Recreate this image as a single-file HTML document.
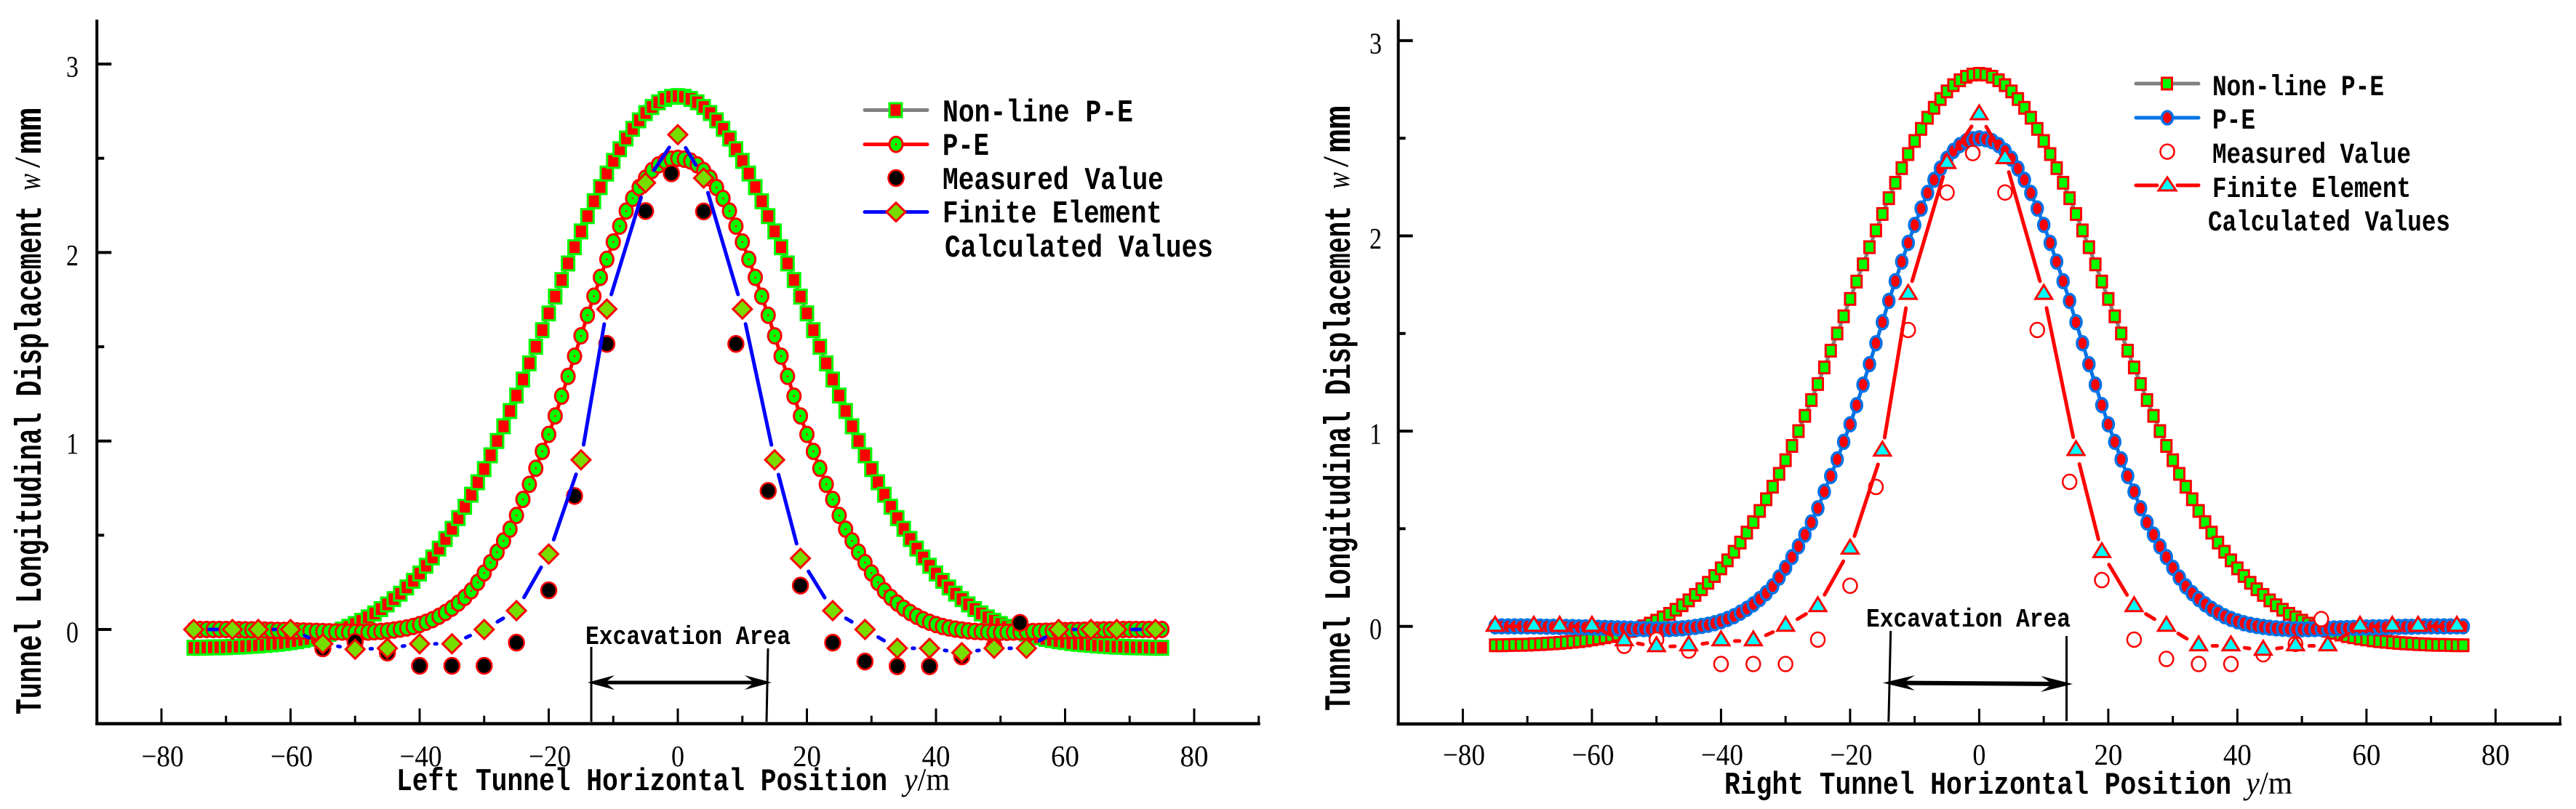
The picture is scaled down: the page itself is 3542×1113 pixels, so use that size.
<!DOCTYPE html>
<html lang="en">
<head>
<meta charset="utf-8">
<title>Tunnel Longitudinal Displacement Charts</title>
<style>
html,body{margin:0;padding:0;background:#fff;width:3542px;height:1113px;overflow:hidden}
svg{display:block}
.mono{font-family:"Liberation Mono",monospace;font-weight:bold;fill:#000}
.ytitle{font-family:"Liberation Mono",monospace;font-weight:bold;fill:#000}
.serif{font-family:"Liberation Serif",serif;fill:#000}
</style>
</head>
<body>
<svg id="figure" xmlns="http://www.w3.org/2000/svg" width="3542" height="1113" viewBox="0 0 3542 1113">
  <rect x="0" y="0" width="3542" height="1113" fill="#fff"/>
  <g id="left-chart">
    <g id="left-marks"></g>
    <g id="left-axes"></g>
    <text class="ytitle" transform="translate(56,983) rotate(-90)" font-size="51" textLength="700" lengthAdjust="spacingAndGlyphs">Tunnel Longitudinal Displacement</text>
    <text class="serif" transform="translate(55,262) rotate(-90)" font-size="46" font-style="italic" textLength="23" lengthAdjust="spacingAndGlyphs">w</text>
    <text class="serif" transform="translate(54,231) rotate(-90)" font-size="50" textLength="15" lengthAdjust="spacingAndGlyphs">/</text>
    <text class="ytitle" transform="translate(56,212) rotate(-90)" font-size="51" textLength="64" lengthAdjust="spacingAndGlyphs">mm</text>
    <text class="mono" x="545" y="1087" font-size="44" textLength="675" lengthAdjust="spacingAndGlyphs">Left Tunnel Horizontal Position</text>
    <text class="serif" x="1243" y="1087" font-size="44" textLength="63" lengthAdjust="spacingAndGlyphs"><tspan font-style="italic">y</tspan>/m</text>
    <text class="mono" x="805" y="886" font-size="36" textLength="282" lengthAdjust="spacingAndGlyphs">Excavation Area</text>
    <line x1="813" y1="890" x2="813" y2="993" stroke="#000" stroke-width="3"/>
    <line x1="1056" y1="892" x2="1054" y2="993" stroke="#000" stroke-width="3"/>
    <line x1="825" y1="939" x2="1050" y2="939" stroke="#000" stroke-width="5"/>
    <polygon points="808,939 845,929 832,939 845,949" fill="#000"/>
    <polygon points="1061,939 1024,929 1037,939 1024,949" fill="#000"/>
    <g>
      <line x1="1189" y1="151.5" x2="1275" y2="151.5" stroke="#7f7f7f" stroke-width="5" stroke-linecap="round"/>
      <rect x="1223" y="142" width="17" height="19" fill="#ff0000" stroke="#00ff00" stroke-width="3"/>
      <text class="mono" x="1296" y="167" font-size="44" textLength="262" lengthAdjust="spacingAndGlyphs">Non-line P-E</text>
      <line x1="1189" y1="198.6" x2="1275" y2="198.6" stroke="#ff0000" stroke-width="5" stroke-linecap="round"/>
      <ellipse cx="1232" cy="198.6" rx="9" ry="10.5" fill="#00ff00" stroke="#ff0000" stroke-width="3"/>
      <circle cx="1232" cy="198.6" r="1.3" fill="#ff0000"/>
      <text class="mono" x="1296" y="213" font-size="44" textLength="64" lengthAdjust="spacingAndGlyphs">P-E</text>
      <ellipse cx="1232" cy="245" rx="10.5" ry="11" fill="#000" stroke="#ff0000" stroke-width="2.5"/>
      <text class="mono" x="1296" y="260" font-size="44" textLength="304" lengthAdjust="spacingAndGlyphs">Measured Value</text>
      <line x1="1189" y1="291.6" x2="1275" y2="291.6" stroke="#0000ff" stroke-width="5" stroke-linecap="round"/>
      <polygon points="1232,279 1245,291.6 1232,304.5 1219,291.6" fill="#77dd00" stroke="#ff0000" stroke-width="3"/>
      <text class="mono" x="1296" y="306" font-size="44" textLength="302" lengthAdjust="spacingAndGlyphs">Finite Element</text>
      <text class="mono" x="1299" y="353" font-size="44" textLength="369" lengthAdjust="spacingAndGlyphs">Calculated Values</text>
    </g>
  </g>
  <g id="right-chart">
    <g id="right-marks"></g>
    <g id="right-axes"></g>
    <text class="ytitle" transform="translate(1856,978) rotate(-90)" font-size="51" textLength="695" lengthAdjust="spacingAndGlyphs">Tunnel Longitudinal Displacement</text>
    <text class="serif" transform="translate(1855,260) rotate(-90)" font-size="46" font-style="italic" textLength="23" lengthAdjust="spacingAndGlyphs">w</text>
    <text class="serif" transform="translate(1853,230) rotate(-90)" font-size="50" textLength="15" lengthAdjust="spacingAndGlyphs">/</text>
    <text class="ytitle" transform="translate(1856,210) rotate(-90)" font-size="51" textLength="65" lengthAdjust="spacingAndGlyphs">mm</text>
    <text class="mono" x="2371" y="1092" font-size="44" textLength="697" lengthAdjust="spacingAndGlyphs">Right Tunnel Horizontal Position</text>
    <text class="serif" x="3088" y="1092" font-size="44" textLength="64" lengthAdjust="spacingAndGlyphs"><tspan font-style="italic">y</tspan>/m</text>
    <text class="mono" x="2566" y="862" font-size="36" textLength="281" lengthAdjust="spacingAndGlyphs">Excavation Area</text>
    <line x1="2599.7" y1="868" x2="2596.8" y2="993" stroke="#000" stroke-width="3"/>
    <line x1="2841.5" y1="875" x2="2841.5" y2="992" stroke="#000" stroke-width="3"/>
    <line x1="2605" y1="939.5" x2="2835" y2="941" stroke="#000" stroke-width="6"/>
    <polygon points="2589,939.5 2633,929 2617,939.5 2633,950" fill="#000"/>
    <polygon points="2850,941 2806,930 2822,941 2806,952" fill="#000"/>
    <g>
      <line x1="2937" y1="115" x2="3023" y2="115" stroke="#7f7f7f" stroke-width="5" stroke-linecap="round"/>
      <rect x="2972.5" y="107" width="14" height="16" fill="#00ff00" stroke="#ff0000" stroke-width="3"/>
      <text class="mono" x="3042" y="131" font-size="40" textLength="236" lengthAdjust="spacingAndGlyphs">Non-line P-E</text>
      <line x1="2937" y1="162" x2="3023" y2="162" stroke="#0073e6" stroke-width="5" stroke-linecap="round"/>
      <ellipse cx="2980" cy="162" rx="7.5" ry="9" fill="#ff0000" stroke="#0073e6" stroke-width="3.5"/>
      <text class="mono" x="3042" y="177" font-size="40" textLength="59" lengthAdjust="spacingAndGlyphs">P-E</text>
      <ellipse cx="2980" cy="208.6" rx="9.5" ry="10" fill="#fff" stroke="#ff0000" stroke-width="2.5"/>
      <text class="mono" x="3042" y="224" font-size="40" textLength="273" lengthAdjust="spacingAndGlyphs">Measured Value</text>
      <line x1="2937" y1="255" x2="2966" y2="255" stroke="#ff0000" stroke-width="5" stroke-linecap="round"/>
      <line x1="2994" y1="255" x2="3023" y2="255" stroke="#ff0000" stroke-width="5" stroke-linecap="round"/>
      <polygon points="2980,244 2992,262 2968,262" fill="#00ffff" stroke="#ff0000" stroke-width="3"/>
      <text class="mono" x="3042" y="271" font-size="40" textLength="273" lengthAdjust="spacingAndGlyphs">Finite Element</text>
      <text class="mono" x="3036" y="317" font-size="40" textLength="333" lengthAdjust="spacingAndGlyphs">Calculated Values</text>
    </g>
  </g>
</svg>
<script>
const curvePositions = [-75,-74,-73,-72,-71,-70,-69,-68,-67,-66,-65,-64,-63,-62,-61,-60,-59,-58,-57,-56,-55,-54,-53,-52,-51,-50,-49,-48,-47,-46,-45,-44,-43,-42,-41,-40,-39,-38,-37,-36,-35,-34,-33,-32,-31,-30,-29,-28,-27,-26,-25,-24,-23,-22,-21,-20,-19,-18,-17,-16,-15,-14,-13,-12,-11,-10,-9,-8,-7,-6,-5,-4,-3,-2,-1,0,1,2,3,4,5,6,7,8,9,10,11,12,13,14,15,16,17,18,19,20,21,22,23,24,25,26,27,28,29,30,31,32,33,34,35,36,37,38,39,40,41,42,43,44,45,46,47,48,49,50,51,52,53,54,55,56,57,58,59,60,61,62,63,64,65,66,67,68,69,70,71,72,73,74,75];

const leftNonlineValues = [-0.097,-0.097,-0.096,-0.095,-0.095,-0.094,-0.092,-0.091,-0.089,-0.087,-0.085,-0.082,-0.079,-0.076,-0.072,-0.067,-0.062,-0.056,-0.05,-0.042,-0.033,-0.023,-0.013,0,0.014,0.029,0.046,0.064,0.085,0.108,0.133,0.161,0.19,0.223,0.258,0.297,0.338,0.382,0.429,0.48,0.534,0.591,0.651,0.715,0.781,0.851,0.924,1,1.078,1.159,1.241,1.326,1.412,1.5,1.588,1.677,1.766,1.854,1.942,2.028,2.112,2.193,2.272,2.347,2.419,2.486,2.548,2.605,2.656,2.701,2.74,2.772,2.797,2.815,2.826,2.83,2.826,2.815,2.797,2.772,2.74,2.701,2.656,2.605,2.548,2.486,2.419,2.347,2.272,2.193,2.112,2.028,1.942,1.854,1.766,1.677,1.588,1.5,1.412,1.326,1.241,1.159,1.078,1,0.924,0.851,0.781,0.715,0.651,0.591,0.534,0.48,0.429,0.382,0.338,0.297,0.258,0.223,0.19,0.161,0.133,0.108,0.085,0.064,0.046,0.029,0.014,0,-0.013,-0.023,-0.033,-0.042,-0.05,-0.056,-0.062,-0.067,-0.072,-0.076,-0.079,-0.082,-0.085,-0.087,-0.089,-0.091,-0.092,-0.094,-0.095,-0.095,-0.096,-0.097,-0.097];

const leftPeValues = [0,0,0,0,0,0,0,-0.001,-0.002,-0.002,-0.003,-0.003,-0.004,-0.005,-0.005,-0.006,-0.007,-0.008,-0.009,-0.01,-0.011,-0.012,-0.013,-0.014,-0.015,-0.015,-0.015,-0.014,-0.012,-0.01,-0.007,-0.003,0.002,0.008,0.016,0.026,0.038,0.052,0.07,0.09,0.113,0.14,0.17,0.205,0.25,0.3,0.355,0.41,0.47,0.532,0.605,0.69,0.77,0.855,0.945,1.035,1.133,1.238,1.343,1.45,1.558,1.667,1.768,1.868,1.964,2.056,2.14,2.22,2.287,2.345,2.395,2.435,2.465,2.485,2.495,2.5,2.495,2.485,2.465,2.435,2.395,2.345,2.287,2.22,2.14,2.056,1.964,1.868,1.768,1.667,1.558,1.45,1.343,1.238,1.133,1.035,0.945,0.855,0.77,0.69,0.605,0.532,0.47,0.41,0.355,0.3,0.25,0.205,0.17,0.14,0.113,0.09,0.07,0.052,0.038,0.026,0.016,0.008,0.002,-0.003,-0.007,-0.01,-0.012,-0.014,-0.015,-0.015,-0.015,-0.014,-0.013,-0.012,-0.011,-0.01,-0.009,-0.008,-0.007,-0.006,-0.005,-0.005,-0.004,-0.003,-0.003,-0.002,-0.002,-0.001,0,0,0,0,0,0,0];

const rightNonlineValues = [-0.097,-0.097,-0.096,-0.095,-0.095,-0.094,-0.092,-0.091,-0.089,-0.087,-0.085,-0.082,-0.079,-0.076,-0.072,-0.067,-0.062,-0.056,-0.05,-0.042,-0.033,-0.023,-0.013,0,0.014,0.029,0.046,0.064,0.085,0.108,0.133,0.161,0.19,0.223,0.258,0.297,0.338,0.382,0.429,0.48,0.534,0.591,0.651,0.715,0.781,0.851,0.924,1,1.078,1.159,1.241,1.326,1.412,1.5,1.588,1.677,1.766,1.854,1.942,2.028,2.112,2.193,2.272,2.347,2.419,2.486,2.548,2.605,2.656,2.701,2.74,2.772,2.797,2.815,2.826,2.83,2.826,2.815,2.797,2.772,2.74,2.701,2.656,2.605,2.548,2.486,2.419,2.347,2.272,2.193,2.112,2.028,1.942,1.854,1.766,1.677,1.588,1.5,1.412,1.326,1.241,1.159,1.078,1,0.924,0.851,0.781,0.715,0.651,0.591,0.534,0.48,0.429,0.382,0.338,0.297,0.258,0.223,0.19,0.161,0.133,0.108,0.085,0.064,0.046,0.029,0.014,0,-0.013,-0.023,-0.033,-0.042,-0.05,-0.056,-0.062,-0.067,-0.072,-0.076,-0.079,-0.082,-0.085,-0.087,-0.089,-0.091,-0.092,-0.094,-0.095,-0.095,-0.096,-0.097,-0.097];

const rightPeValues = [0,0,0,0,0,0,0,-0.001,-0.002,-0.002,-0.003,-0.003,-0.004,-0.005,-0.005,-0.006,-0.007,-0.008,-0.009,-0.01,-0.011,-0.012,-0.013,-0.014,-0.015,-0.015,-0.015,-0.014,-0.012,-0.01,-0.007,-0.003,0.002,0.008,0.016,0.026,0.038,0.052,0.07,0.09,0.113,0.14,0.17,0.205,0.25,0.3,0.355,0.41,0.47,0.532,0.605,0.69,0.77,0.855,0.945,1.035,1.133,1.238,1.343,1.45,1.558,1.667,1.768,1.868,1.964,2.056,2.14,2.22,2.287,2.345,2.395,2.435,2.465,2.485,2.495,2.5,2.495,2.485,2.465,2.435,2.395,2.345,2.287,2.22,2.14,2.056,1.964,1.868,1.768,1.667,1.558,1.45,1.343,1.238,1.133,1.035,0.945,0.855,0.77,0.69,0.605,0.532,0.47,0.41,0.355,0.3,0.25,0.205,0.17,0.14,0.113,0.09,0.07,0.052,0.038,0.026,0.016,0.008,0.002,-0.003,-0.007,-0.01,-0.012,-0.014,-0.015,-0.015,-0.015,-0.014,-0.013,-0.012,-0.011,-0.01,-0.009,-0.008,-0.007,-0.006,-0.005,-0.005,-0.004,-0.003,-0.003,-0.002,-0.002,-0.001,0,0,0,0,0,0,0];

const measuredPositions = [-55,-50,-45,-40,-35,-30,-25,-20,-16,-11,-5,-1,4,9,14,19,24,29,34,39,44,49,53];
const leftMeasuredValues = [-0.1,-0.066,-0.123,-0.193,-0.193,-0.193,-0.07,0.208,0.708,1.515,2.22,2.42,2.218,1.515,0.735,0.233,-0.07,-0.17,-0.195,-0.195,-0.143,-0.092,0.035];
const rightMeasuredValues = [-0.1,-0.068,-0.124,-0.193,-0.193,-0.193,-0.068,0.208,0.714,1.518,2.222,2.424,2.222,1.518,0.74,0.237,-0.068,-0.167,-0.193,-0.193,-0.143,-0.09,0.037];

const elementPositions = [-75,-69,-65,-60,-55,-50,-45,-40,-35,-30,-25,-20,-15,-11,-5,0,4,10,15,19,24,29,34,39,44,49,54,59,64,68,74];
const leftElementValues = [0,0,0,0,-0.076,-0.105,-0.1,-0.076,-0.076,0,0.1,0.4,0.9,1.7,2.37,2.625,2.395,1.7,0.9,0.377,0.1,0,-0.1,-0.1,-0.123,-0.1,-0.1,0,0,0,0];
const rightElementValues = [0,0,0,0,-0.075,-0.105,-0.1,-0.075,-0.075,0,0.1,0.395,0.897,1.7,2.37,2.62,2.395,1.7,0.9,0.377,0.1,0,-0.1,-0.1,-0.123,-0.1,-0.1,0,0,0,0];

const xMajorTicks = [-80,-60,-40,-20,0,20,40,60,80];
const xMinorTicks = [-70,-50,-30,-10,10,30,50,70,90];
const yMajorTicks = [0,1,2,3];
const yMinorTicks = [0.5,1.5,2.5];

const SVGNS = 'http://www.w3.org/2000/svg';

function xLeft(v){ return 932 + v * 8.875; }
function yLeft(v){ return 866 - v * 259.3; }
function xRight(v){ return 2721.4 + v * 8.875; }
function yRight(v){ return 861.7 - v * 268.6; }

function addEl(parent, tag, name, attrs){
  const el = document.createElementNS(SVGNS, tag);
  
  
  for (const k in attrs) el.setAttribute(k, attrs[k]);
  parent.appendChild(el);
  return el;
}

function drawAxes(group, xf, yf, o){
  const axisLeft = xf(-90), axisRight = xf(90), axisBottom = yf(-0.5);
  addEl(group, 'line', 'y-axis-line', {x1:axisLeft, y1:27, x2:axisLeft, y2:axisBottom+2, stroke:'#000','stroke-width':4});
  addEl(group, 'line', 'x-axis-line', {x1:axisLeft-2, y1:axisBottom, x2:axisRight+2, y2:axisBottom, stroke:'#000','stroke-width':4.5});
  xMajorTicks.forEach(function(v){
    addEl(group, 'line', 'x-major-tick', {x1:xf(v), y1:axisBottom, x2:xf(v), y2:axisBottom-21, stroke:'#000','stroke-width':3});
    const lab = (v < 0 ? '\u2212' : '') + Math.abs(v);
    const t = addEl(group, 'text', 'x-tick-label', {class:'serif', x:xf(v) + (v < 0 ? 1.5 : 0), y:o.xLabelY, 'font-size':41, 'text-anchor':'middle', textLength: v < 0 ? 58 : (v === 0 ? 18 : 39), lengthAdjust:'spacingAndGlyphs'});
    t.textContent = lab;
  });
  xMinorTicks.forEach(function(v){
    addEl(group, 'line', 'x-minor-tick', {x1:xf(v), y1:axisBottom, x2:xf(v), y2:axisBottom-11, stroke:'#000','stroke-width':3});
  });
  yMajorTicks.forEach(function(v){
    addEl(group, 'line', 'y-major-tick', {x1:axisLeft, y1:yf(v), x2:axisLeft+20, y2:yf(v), stroke:'#000','stroke-width':4});
    const t = addEl(group, 'text', 'y-tick-label', {class:'serif', x:o.yLabelX, y:yf(v)+17.5, 'font-size':41, 'text-anchor':'end', textLength:17, lengthAdjust:'spacingAndGlyphs'});
    t.textContent = String(v);
  });
  yMinorTicks.forEach(function(v){
    addEl(group, 'line', 'y-minor-tick', {x1:axisLeft, y1:yf(v), x2:axisLeft+10, y2:yf(v), stroke:'#000','stroke-width':4});
  });
}

function linePath(xs, ys, xf, yf){
  return xs.map(function(x, i){ return (i ? 'L' : 'M') + xf(x).toFixed(1) + ' ' + yf(ys[i]).toFixed(1); }).join(' ');
}

function gappedSegments(group, name, xs, ys, xf, yf, gap, color){
  for (let i = 0; i < xs.length - 1; i++){
    const x1 = xf(xs[i]), y1 = yf(ys[i]), x2 = xf(xs[i+1]), y2 = yf(ys[i+1]);
    const dx = x2 - x1, dy = y2 - y1, len = Math.hypot(dx, dy);
    if (len <= gap * 2 + 1) continue;
    const ux = dx / len, uy = dy / len;
    addEl(group, 'line', name, {x1:x1+ux*gap, y1:y1+uy*gap, x2:x2-ux*gap, y2:y2-uy*gap, stroke:color, 'stroke-width':5, 'stroke-linecap':'round'});
  }
}

function drawLeft(){
  const g = document.getElementById('left-marks');
  addEl(g, 'path', 'nonline-pe-line', {d:linePath(curvePositions, leftNonlineValues, xLeft, yLeft), fill:'none', stroke:'#7f7f7f','stroke-width':5});
  curvePositions.forEach(function(x, i){
    addEl(g, 'rect', 'nonline-pe-point', {x:xLeft(x)-8.5, y:yLeft(leftNonlineValues[i])-9.5, width:17, height:19, fill:'#ff0000', stroke:'#00ff00','stroke-width':3});
  });
  addEl(g, 'path', 'pe-line', {d:linePath(curvePositions, leftPeValues, xLeft, yLeft), fill:'none', stroke:'#ff0000','stroke-width':5});
  curvePositions.forEach(function(x, i){
    const cx = xLeft(x), cy = yLeft(leftPeValues[i]);
    addEl(g, 'ellipse', 'pe-point', {cx:cx, cy:cy, rx:9, ry:10.5, fill:'#00ff00', stroke:'#ff0000','stroke-width':3});
    addEl(g, 'circle', 'pe-point-dot', {cx:cx, cy:cy, r:1.3, fill:'#ff0000'});
  });
  measuredPositions.forEach(function(x, i){
    addEl(g, 'ellipse', 'measured-point', {cx:xLeft(x), cy:yLeft(leftMeasuredValues[i]), rx:10.5, ry:11, fill:'#000', stroke:'#ff0000','stroke-width':2.5});
  });
  gappedSegments(g, 'finite-element-line-segment', elementPositions, leftElementValues, xLeft, yLeft, 21, '#0000ff');
  elementPositions.forEach(function(x, i){
    const cx = xLeft(x), cy = yLeft(leftElementValues[i]);
    const pts = [cx, cy-13, cx+13, cy, cx, cy+13, cx-13, cy].map(function(n){ return n.toFixed(1); }).join(' ');
    addEl(g, 'polygon', 'finite-element-point', {points:pts, fill:'#77dd00', stroke:'#ff0000','stroke-width':3});
  });
  drawAxes(document.getElementById('left-axes'), xLeft, yLeft, {xLabelY:1054, yLabelX:108});
}

function drawRight(){
  const g = document.getElementById('right-marks');
  addEl(g, 'path', 'nonline-pe-line', {d:linePath(curvePositions, rightNonlineValues, xRight, yRight), fill:'none', stroke:'#7f7f7f','stroke-width':5});
  curvePositions.forEach(function(x, i){
    addEl(g, 'rect', 'nonline-pe-point', {x:xRight(x)-7, y:yRight(rightNonlineValues[i])-8, width:14, height:16, fill:'#00ff00', stroke:'#ff0000','stroke-width':3});
  });
  addEl(g, 'path', 'pe-line', {d:linePath(curvePositions, rightPeValues, xRight, yRight), fill:'none', stroke:'#0073e6','stroke-width':5});
  curvePositions.forEach(function(x, i){
    addEl(g, 'ellipse', 'pe-point', {cx:xRight(x), cy:yRight(rightPeValues[i]), rx:7.5, ry:9.5, fill:'#ff0000', stroke:'#0073e6','stroke-width':3.5});
  });
  measuredPositions.forEach(function(x, i){
    addEl(g, 'ellipse', 'measured-point', {cx:xRight(x), cy:yRight(rightMeasuredValues[i]), rx:9.5, ry:10, fill:'#fff', stroke:'#ff0000','stroke-width':2.5});
  });
  gappedSegments(g, 'finite-element-line-segment', elementPositions, rightElementValues, xRight, yRight, 19, '#ff0000');
  elementPositions.forEach(function(x, i){
    const cx = xRight(x), cy = yRight(rightElementValues[i]);
    const pts = [cx, cy-13, cx+11.5, cy+6, cx-11.5, cy+6].map(function(n){ return n.toFixed(1); }).join(' ');
    addEl(g, 'polygon', 'finite-element-point', {points:pts, fill:'#00ffff', stroke:'#ff0000','stroke-width':3});
  });
  drawAxes(document.getElementById('right-axes'), xRight, yRight, {xLabelY:1052, yLabelX:1900});
}

drawLeft();
drawRight();
</script>
</body>
</html>
